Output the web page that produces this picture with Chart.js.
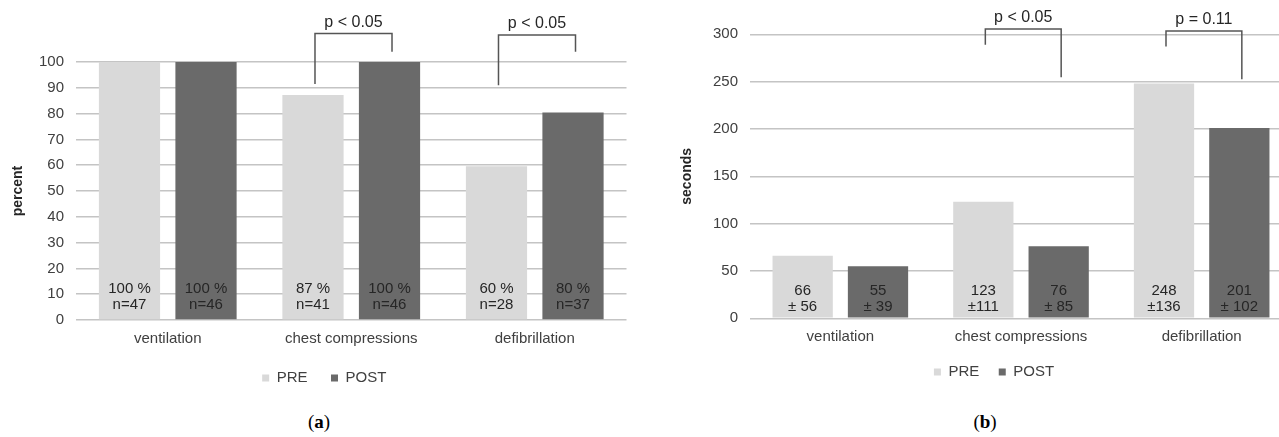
<!DOCTYPE html>
<html>
<head>
<meta charset="utf-8">
<script src="https://cdn.jsdelivr.net/npm/chart.js@4.4.0/dist/chart.umd.min.js"></script>
<style>
  html, body { margin: 0; padding: 0; background: #fff; }
  body { width: 1279px; height: 437px; position: relative; overflow: hidden; }
  #wrapA { position: absolute; left: 0; top: 0; width: 640px; height: 400px; }
  #wrapB { position: absolute; left: 640px; top: 0; width: 639px; height: 400px; overflow: hidden; }
  .caption { position: absolute; top: 411px; width: 60px; text-align: center;
             font-family: 'Liberation Serif', serif; font-size: 19px; line-height: 22px; color: #000; }
</style>
</head>
<body>
<div id="wrapA"><canvas id="chartA" width="640" height="400"></canvas></div>
<div id="wrapB"><canvas id="chartB" width="700" height="394"></canvas></div>
<div class="caption" style="left:289px">(<b>a</b>)</div>
<div class="caption" style="left:955px">(<b>b</b>)</div>
<script>
const categories = ['ventilation', 'chest compressions', 'defibrillation'];
const seriesNames = ['PRE', 'POST'];

// (a) success rate, percent
const pctPre = [100, 87.2, 59.6];
const pctPost = [100, 100, 80.4];
const nPre = [47, 41, 28];
const nPost = [46, 46, 37];

// (b) time to action, seconds (mean ± sd)
const secPre = [66, 123, 248];
const secPost = [55, 76, 201];
const sdPre = ['± 56', '±111', '±136'];
const sdPost = ['± 39', '± 85', '± 102'];

// significance brackets: category, left foot, right foot, top (axis units)
const bracketsA = [
    {cat: 1, from: 91.5, to: 104, top: 111, text: 'p < 0.05'},
    {cat: 2, from: 91, to: 104, top: 110.5, text: 'p < 0.05'}
];
const bracketsB = [
    {cat: 1, from: 289, to: 254.6, top: 305.6, text: 'p < 0.05'},
    {cat: 2, from: 287, to: 252.5, top: 303.5, text: 'p = 0.11'}
];

const FAMILY = "'Liberation Sans', Arial, sans-serif";
const FONT = {family: FAMILY, size: 15};
const TEXT = '#404040';

const barText = {
    id: 'barText',
    afterDatasetsDraw(chart, args, opts) {
        const ctx = chart.ctx;
        const base = chart.scales.y.getPixelForValue(0);
        ctx.save();
        ctx.font = `15px ${FAMILY}`;
        ctx.fillStyle = '#262626';
        ctx.textAlign = 'center';
        ctx.textBaseline = 'middle';
        opts.lines.forEach((rows, d) => {
            chart.getDatasetMeta(d).data.forEach((bar, i) => {
                rows[i].forEach((t, k) => ctx.fillText(t, bar.x, base - opts.offsets[k]));
            });
        });
        ctx.restore();
    }
};

const brackets = {
    id: 'brackets',
    afterDatasetsDraw(chart, args, opts) {
        const ctx = chart.ctx;
        const y = chart.scales.y;
        const pre = chart.getDatasetMeta(0).data;
        const post = chart.getDatasetMeta(1).data;
        ctx.save();
        ctx.strokeStyle = '#555';
        ctx.lineWidth = 1.5;
        ctx.font = `16px ${FAMILY}`;
        ctx.fillStyle = '#262626';
        ctx.textAlign = 'center';
        ctx.textBaseline = 'middle';
        opts.items.forEach(b => {
            const x1 = pre[b.cat].x + 2, x2 = post[b.cat].x + 2.5;
            const yt = y.getPixelForValue(b.top);
            ctx.beginPath();
            ctx.moveTo(x1, y.getPixelForValue(b.from));
            ctx.lineTo(x1, yt);
            ctx.lineTo(x2, yt);
            ctx.lineTo(x2, y.getPixelForValue(b.to));
            ctx.stroke();
            ctx.fillText(b.text, (x1 + x2) / 2, yt - 11);
        });
        ctx.restore();
    }
};

function makeChart(canvas, cfg) {
    return new Chart(canvas.getContext('2d'), {
        type: 'bar',
        data: {
            labels: categories,
            datasets: [
                {label: seriesNames[0], data: cfg.pre, backgroundColor: '#d9d9d9',
                 categoryPercentage: 0.834, barPercentage: 0.8},
                {label: seriesNames[1], data: cfg.post, backgroundColor: '#6a6a6a',
                 categoryPercentage: 0.834, barPercentage: 0.8}
            ]
        },
        options: {
            responsive: false,
            animation: false,
            layout: {padding: cfg.padding},
            plugins: {
                legend: {
                    position: 'bottom',
                    labels: {boxWidth: 7, boxHeight: 7, padding: cfg.legendPad, color: TEXT, font: FONT}
                },
                tooltip: {enabled: false},
                barText: {lines: cfg.lines, offsets: cfg.offsets},
                brackets: {items: cfg.brackets}
            },
            scales: {
                x: {
                    grid: {display: false, drawTicks: false},
                    border: {display: false},
                    ticks: {color: TEXT, font: FONT, padding: cfg.xPad},
                    afterFit: s => { s.height = cfg.xHeight; }
                },
                y: {
                    min: 0,
                    max: cfg.max,
                    ticks: {stepSize: cfg.step, color: TEXT, font: FONT, padding: 12},
                    grid: {color: '#c4c4c4', lineWidth: 1.5, drawTicks: false},
                    border: {display: false},
                    title: {
                        display: true, text: cfg.title, color: '#262626',
                        font: {family: FAMILY, size: 14, weight: 'bold'},
                        padding: {top: cfg.titlePad, bottom: 0}
                    },
                    afterFit: s => { s.width = cfg.yWidth; }
                }
            }
        },
        plugins: [barText, brackets]
    });
}

makeChart(document.getElementById('chartA'), {
    pre: pctPre,
    post: pctPost,
    max: 100,
    step: 10,
    title: 'percent',
    titlePad: -12.4,
    yWidth: 54,
    xHeight: 27,
    xPad: 9.5,
    legendPad: 23.5,
    padding: {left: 22, right: 13.5, top: 62, bottom: 4.5},
    offsets: [31, 15],
    lines: [
        pctPre.map((v, i) => [`${Math.round(v)} %`, `n=${nPre[i]}`]),
        pctPost.map((v, i) => [`${Math.round(v)} %`, `n=${nPost[i]}`])
    ],
    brackets: bracketsA
});

makeChart(document.getElementById('chartB'), {
    pre: secPre,
    post: secPost,
    max: 300,
    step: 50,
    title: 'seconds',
    titlePad: -17.4,
    yWidth: 54,
    xHeight: 26.7,
    xPad: 9.4,
    legendPad: 19.5,
    padding: {left: 56, right: 48, top: 34.3, bottom: 4.5},
    offsets: [27.6, 11.3],
    lines: [
        secPre.map((v, i) => [`${v}`, sdPre[i]]),
        secPost.map((v, i) => [`${v}`, sdPost[i]])
    ],
    brackets: bracketsB
});
</script>
</body>
</html>
